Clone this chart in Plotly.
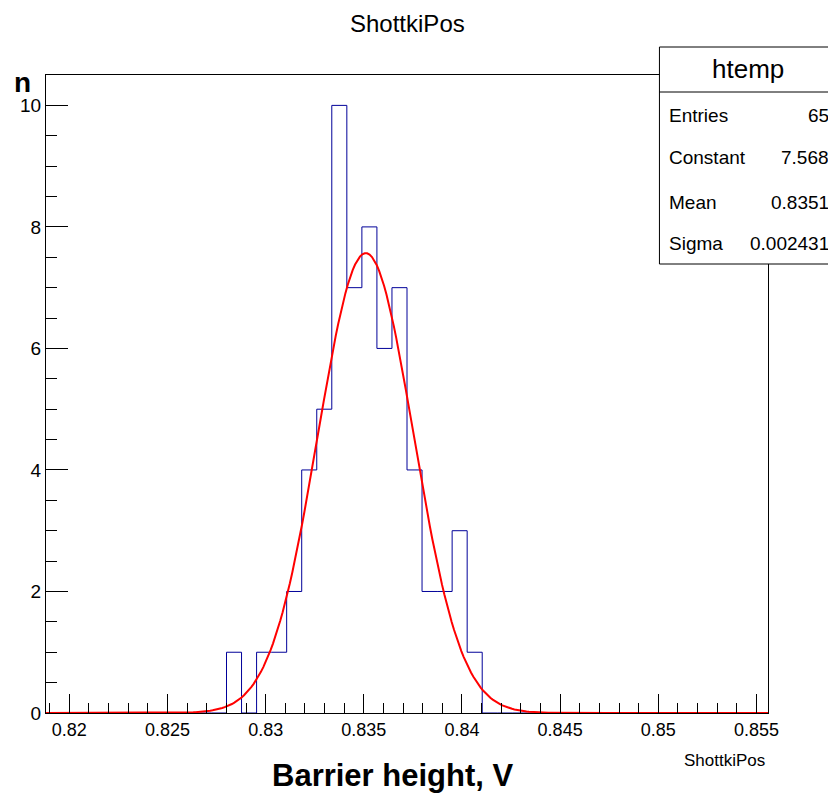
import numpy as np
import plotly.graph_objects as go

# ---- data ----
x_min = 0.81881
x_max = 0.85559
n_bins = 48
counts = [0]*12 + [1, 0, 1, 1, 2, 4, 5, 10, 7, 8, 6, 7, 4, 2, 2, 3, 1] + [0]*19
fit_constant = 7.568
fit_mean = 0.8351
fit_sigma = 0.002431
stats_labels = ["Entries", "Constant", "Mean", "Sigma"]
stats_values = ["65", "7.568", "0.8351", "0.002431"]

# page body has an 8px margin; compensate so the chart lands where the reference has it
OFF = 8
W, H = 836 - OFF, 795 - OFF
# plot-frame edges in reference pixels
L0, R0, T0, B0 = 43, 768, 75, 713
L, R, T, B = L0 - OFF, R0 - OFF, T0 - OFF, B0 - OFF
FONT = "Liberation Sans, Arial, Helvetica"

bw = (x_max - x_min) / n_bins
edges = [x_min + i*bw for i in range(n_bins + 1)]
hx = [edges[0]] + edges[:-1] + [edges[-1], edges[-1]]
hy = [0] + counts + [counts[-1], 0]

fx = np.linspace(x_min, x_max, 300)
fy = fit_constant*np.exp(-0.5*((fx - fit_mean)/fit_sigma)**2)

fig = go.Figure()
fig.add_trace(go.Scatter(x=hx, y=hy, mode="lines", line=dict(shape="hv", color="#000099", width=1),
                         hoverinfo="skip", showlegend=False))
fig.add_trace(go.Scatter(x=fx, y=fy, mode="lines", line=dict(color="#ff0000", width=2),
                         showlegend=False))

def px(x):
    # reference pixel x -> paper coordinate
    return (x - OFF - L) / (R - L)

def py(y):
    return (B - (y - OFF)) / (B - T)

fig.update_layout(
    width=W, height=H,
    margin=dict(l=L, r=W - R, t=T, b=H - B, pad=0),
    paper_bgcolor="white", plot_bgcolor="white",
    font=dict(family=FONT, size=18, color="black"),
    xaxis=dict(range=[x_min, x_max], showgrid=False, zeroline=False,
               showline=True, linecolor="black", linewidth=1, mirror=True,
               ticks="inside", tick0=0.82, dtick=0.005, ticklen=19, tickcolor="black",
               tickwidth=1, tickfont=dict(family=FONT, size=18),
               minor=dict(ticks="inside", dtick=0.001, tick0=0.82, ticklen=10, tickcolor="black", showgrid=False)),
    yaxis=dict(range=[0, 10.5], showgrid=False, zeroline=False,
               showline=True, linecolor="black", linewidth=1, mirror=True,
               ticks="inside", tick0=0, dtick=2, ticklen=22, tickcolor="black",
               tickwidth=1, tickfont=dict(family=FONT, size=19),
               minor=dict(ticks="inside", dtick=0.5, ticklen=11, tickcolor="black", showgrid=False)),
)

shapes = [
    dict(type="rect", xref="paper", yref="paper", x0=px(659), x1=px(850), y0=py(264), y1=py(47),
         line=dict(color="black", width=1), fillcolor="white", layer="above"),
    dict(type="line", xref="paper", yref="paper", x0=px(659), x1=px(850), y0=py(92), y1=py(92),
         line=dict(color="black", width=1), layer="above"),
]
fig.update_layout(shapes=shapes)

ann = []
ann.append(dict(text="ShottkiPos", x=px(406), y=py(24), xref="paper", yref="paper",
                showarrow=False, xanchor="center", yanchor="middle", font=dict(family=FONT, size=24)))
ann.append(dict(text="htemp", x=px(748), y=py(69), xref="paper", yref="paper",
                showarrow=False, xanchor="center", yanchor="middle", font=dict(family=FONT, size=26)))
row_y = [115, 158, 202, 243]
for lab, val, yy in zip(stats_labels, stats_values, row_y):
    ann.append(dict(text=lab, x=px(667), y=py(yy), xref="paper", yref="paper", showarrow=False,
                    xanchor="left", yanchor="middle", font=dict(family=FONT, size=19)))
    ann.append(dict(text=val, x=px(831), y=py(yy), xref="paper", yref="paper", showarrow=False,
                    xanchor="right", yanchor="middle", font=dict(family=FONT, size=19)))
ann.append(dict(text="<b>n</b>", x=px(19), y=py(83), xref="paper", yref="paper", showarrow=False,
                xanchor="center", yanchor="middle", font=dict(family=FONT, size=28)))
ann.append(dict(text="<b>Barrier height, V</b>", x=px(391), y=py(776), xref="paper", yref="paper",
                showarrow=False, xanchor="center", yanchor="middle",
                font=dict(family=FONT, size=31)))
ann.append(dict(text="ShottkiPos", x=px(767), y=py(760), xref="paper", yref="paper", showarrow=False,
                xanchor="right", yanchor="middle", font=dict(family=FONT, size=17)))
fig.update_layout(annotations=ann)

fig.write_html("out.html")
